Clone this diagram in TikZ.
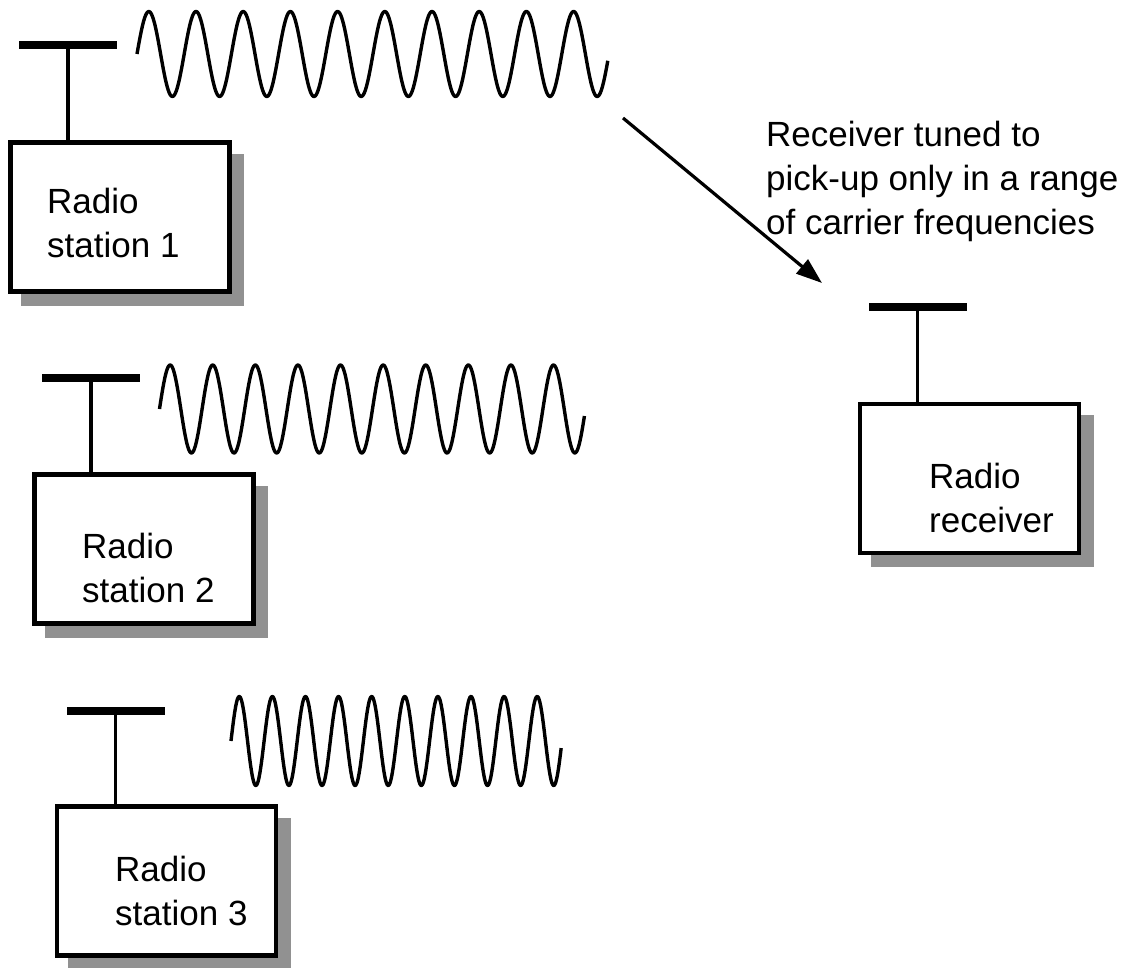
\documentclass[tikz,border=0pt]{standalone}
\usepackage{fontspec}
\setmainfont{Liberation Sans}
\usetikzlibrary{shadows, arrows.meta}

\definecolor{shadowgray}{RGB}{145,145,145}

\tikzset{
	box/.style = {draw, line width = 4.6pt, fill = white, minimum width = 219pt, minimum height = 149pt, inner sep = 0pt,
		drop shadow = {shadow xshift = 12.5pt, shadow yshift = -12.5pt, shadow scale = 1.02, fill = shadowgray, opacity = 1}},
	bar/.style = {fill = black, minimum width = 98pt, minimum height = 7.6pt, inner sep = 0pt, outer sep = 0pt},
	mast/.style = {line width = 3.5pt},
	wave/.style = {line width = 3.4pt, line join = round},
	pointer/.style = {line width = 3.2pt, -{Triangle[length = 26pt, width = 18pt]}},
	boxtext/.style = {align = left, anchor = base west, inner sep = 0pt, font = \fontsize{35}{44}\selectfont}
}

\begin{document}
\begin{tikzpicture}[x = 1pt, y = -1pt]
				\useasboundingbox (0,0) rectangle (1135,968);
				
				% stations and receiver
				\node (S1) at (119.75,217)[box]{};
				\node (S2) at (144,549)[box]{};
				\node (S3) at (166.5,881)[box]{};
				\node (R) at (969.5,478.5)[box]{};
				
				\node (T1) at (47,258)[boxtext]{Radio\\station 1};
				\node (T2) at (82,602)[boxtext]{Radio\\station 2};
				\node (T3) at (115,925)[boxtext]{Radio\\station 3};
				\node (TR) at (929,532)[boxtext]{Radio\\receiver};
				
				% antennas
				\node (A1) at (68,45)[bar]{};
				\node (A2) at (91,378)[bar]{};
				\node (A3) at (115.5,711)[bar]{};
				\node (AR) at (917.5,307)[bar]{};
				
				\draw[mast] (A1) -- (A1 |- S1.north);
				\draw[mast] (A2) -- (A2 |- S2.north);
				\draw[mast] (A3) -- (A3 |- S3.north);
				\draw[mast] (AR) -- (AR |- R.north);
				
				% carrier waves
				\draw[wave] plot[domain = 0:9.98, samples = 500] ({137 + 47.2*\x}, {54 - 42.5*sin(360*\x)});
				\draw[wave] plot[domain = 0:9.98, samples = 500] ({159.5 + 42.6*\x}, {409 - 44*sin(360*\x)});
				\draw[wave] plot[domain = 0:9.98, samples = 500] ({231 + 33.1*\x}, {741 - 44.5*sin(360*\x)});
				
				% tuning note
				\coordinate (tail) at (623,118);
				\coordinate (head) at (822,283);
				\draw[pointer] (tail) -- (head);
				\node (note) at (766,235)[boxtext]{Receiver tuned to\\pick-up only in a range\\of carrier frequencies};
			\end{tikzpicture}
\end{document}
